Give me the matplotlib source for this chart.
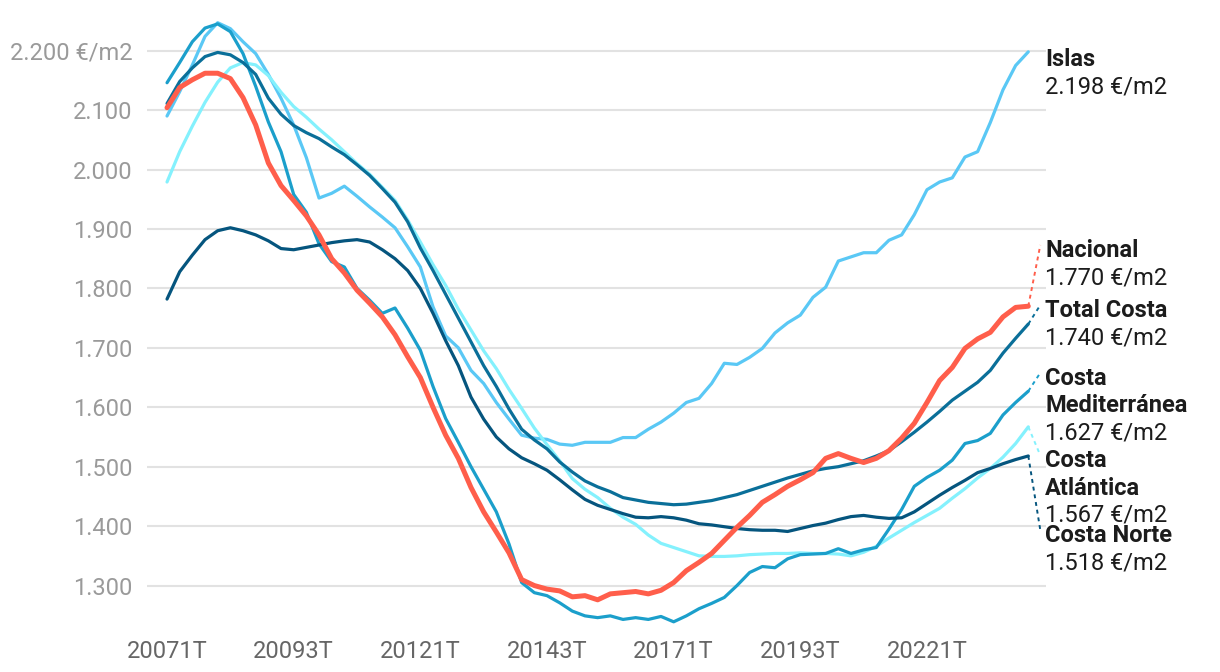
"""Precio medio de la vivienda en costa, islas y total nacional (€/m2)."""
import matplotlib
matplotlib.use("Agg")
import matplotlib.pyplot as plt
from matplotlib.transforms import offset_copy

plt.rcParams["font.family"] = ["Roboto", "DejaVu Sans"]

# Quarters 2007 Q1 .. 2024 Q1
periods = [f"{y}{q}T" for y in range(2007, 2025) for q in range(1, 5)][:69]
tick_periods = ["20071T", "20093T", "20121T", "20143T", "20171T", "20193T", "20221T"]

islas = [2090, 2131, 2176, 2224, 2247, 2237, 2215, 2195, 2160, 2120,
         2075, 2020, 1952, 1960, 1972, 1955, 1937, 1920, 1902, 1870,
         1836, 1769, 1720, 1700, 1662, 1640, 1608, 1580, 1553, 1548,
         1546, 1538, 1536, 1541, 1541, 1541, 1549, 1549, 1563, 1575,
         1590, 1608, 1615, 1640, 1674, 1672, 1684, 1699, 1725, 1742,
         1755, 1785, 1802, 1846, 1853, 1860, 1860, 1881, 1890, 1924,
         1966, 1979, 1986, 2021, 2030, 2079, 2134, 2175, 2198]

nacional = [2104, 2138, 2151, 2162, 2162, 2153, 2121, 2075, 2011, 1973,
            1948, 1922, 1890, 1850, 1826, 1797, 1775, 1752, 1722, 1685,
            1650, 1600, 1553, 1514, 1465, 1424, 1390, 1355, 1310, 1300,
            1294, 1291, 1281, 1283, 1276, 1286, 1288, 1290, 1286, 1292,
            1305, 1325, 1339, 1354, 1376, 1398, 1418, 1440, 1453, 1467,
            1478, 1490, 1514, 1522, 1514, 1507, 1514, 1527, 1548, 1573,
            1608, 1645, 1667, 1699, 1715, 1726, 1752, 1768, 1770]

total_costa = [2111, 2148, 2171, 2190, 2197, 2193, 2180, 2160, 2120, 2093,
               2074, 2062, 2052, 2038, 2025, 2008, 1990, 1968, 1945, 1912,
               1868, 1830, 1790, 1750, 1710, 1670, 1635, 1597, 1563, 1545,
               1530, 1508, 1491, 1476, 1466, 1458, 1448, 1444, 1440, 1438,
               1436, 1437, 1440, 1443, 1448, 1453, 1460, 1467, 1474, 1481,
               1487, 1493, 1497, 1500, 1505, 1510, 1518, 1527, 1542, 1558,
               1575, 1593, 1612, 1627, 1642, 1662, 1691, 1716, 1740]

costa_mediterranea = [2146, 2180, 2215, 2238, 2245, 2232, 2195, 2140, 2080, 2030,
                      1958, 1928, 1875, 1845, 1836, 1800, 1780, 1758, 1767, 1733,
                      1696, 1635, 1581, 1541, 1500, 1462, 1424, 1370, 1305, 1288,
                      1283, 1271, 1257, 1249, 1246, 1249, 1243, 1246, 1243, 1248,
                      1239, 1249, 1261, 1270, 1280, 1300, 1322, 1332, 1330, 1345,
                      1352, 1353, 1354, 1362, 1354, 1360, 1364, 1395, 1428, 1467,
                      1482, 1494, 1511, 1539, 1544, 1556, 1587, 1608, 1627]

costa_atlantica = [1979, 2030, 2073, 2113, 2147, 2171, 2180, 2176, 2158, 2130,
                   2106, 2088, 2068, 2050, 2030, 2010, 1992, 1970, 1948, 1915,
                   1878, 1840, 1805, 1765, 1730, 1695, 1665, 1630, 1598, 1565,
                   1537, 1510, 1480, 1462, 1448, 1430, 1415, 1403, 1385, 1371,
                   1364, 1357, 1350, 1349, 1349, 1350, 1352, 1353, 1354, 1354,
                   1355, 1354, 1354, 1353, 1350, 1356, 1366, 1380, 1393, 1406,
                   1418, 1430, 1447, 1463, 1481, 1497, 1516, 1539, 1567]

costa_norte = [1782, 1828, 1856, 1882, 1897, 1902, 1897, 1890, 1880, 1867,
               1865, 1869, 1873, 1877, 1880, 1882, 1878, 1865, 1850, 1830,
               1800, 1758, 1712, 1670, 1617, 1580, 1550, 1530, 1515, 1505,
               1494, 1478, 1461, 1445, 1435, 1428, 1421, 1415, 1414, 1416,
               1414, 1410, 1404, 1402, 1399, 1396, 1394, 1393, 1393, 1391,
               1396, 1401, 1405, 1411, 1416, 1418, 1415, 1413, 1414, 1424,
               1438, 1452, 1465, 1477, 1490, 1497, 1505, 1512, 1518]

# name, values, colour, line width, label top (data units)
series = [
    (["Islas"], islas, "#5ac8f5", 2.3, 2204),
    (["Costa", "Atlántica"], costa_atlantica, "#84f1fd", 2.3, 1529),
    (["Costa", "Mediterránea"], costa_mediterranea, "#1b9fcb", 2.3, 1668),
    (["Costa Norte"], costa_norte, "#05557e", 2.3, 1403),
    (["Total Costa"], total_costa, "#0a6f99", 2.3, 1782),
    (["Nacional"], nacional, "#ff5e4b", 3.6, 1883),
]


def fmt(v):
    return f"{v:,}".replace(",", ".")


fig = plt.figure(figsize=(12.2, 6.72), dpi=100)
ax = fig.add_axes([0.1205, 0.0685, 0.7369, 0.9092])

x = list(range(len(periods)))
last = len(periods) - 1
label_x = last + 1.35
line_h = 19.5  # points between text lines

for names, vals, color, lw, top in series:
    ax.plot(x, vals, color=color, linewidth=lw, solid_capstyle="round",
            solid_joinstyle="round", zorder=3 if names[0] != "Nacional" else 4)
    if abs(top - vals[-1]) > 20:
        ax.plot([last, last + 0.95], [vals[-1], top - 10], color=color,
                linewidth=1.4, linestyle=(0, (2, 2)), clip_on=False, zorder=3)
    for k, name in enumerate(names):
        tr = offset_copy(ax.transData, fig=fig, x=0, y=-k * line_h, units="points")
        ax.text(label_x, top, name, transform=tr, fontsize=17, fontweight="bold",
                color="#1c1c1c", va="top", ha="left", clip_on=False)
    tr = offset_copy(ax.transData, fig=fig, x=0, y=-len(names) * line_h, units="points")
    ax.text(label_x, top, f"{fmt(vals[-1])} €/m2", transform=tr, fontsize=17,
            color="#1c1c1c", va="top", ha="left", clip_on=False)

ax.set_xlim(-1.58, 69.4)
ax.set_ylim(1232, 2260)

yticks = list(range(1300, 2201, 100))
ax.set_yticks(yticks)
ax.set_yticklabels([fmt(v) + (" €/m2" if v == 2200 else "") for v in yticks])
ax.set_xticks([periods.index(p) for p in tick_periods])
ax.set_xticklabels(tick_periods)

ax.tick_params(axis="y", length=0, pad=10.5, labelsize=17, labelcolor="#9a9a9a")
ax.tick_params(axis="x", length=0, pad=10, labelsize=17, labelcolor="#666666")
ax.grid(True, axis="y", color="#e2e2e2", linewidth=1.5, zorder=0)
ax.set_axisbelow(True)
for s in ax.spines.values():
    s.set_visible(False)

fig.savefig("out.png", dpi=100)
plt.close(fig)
